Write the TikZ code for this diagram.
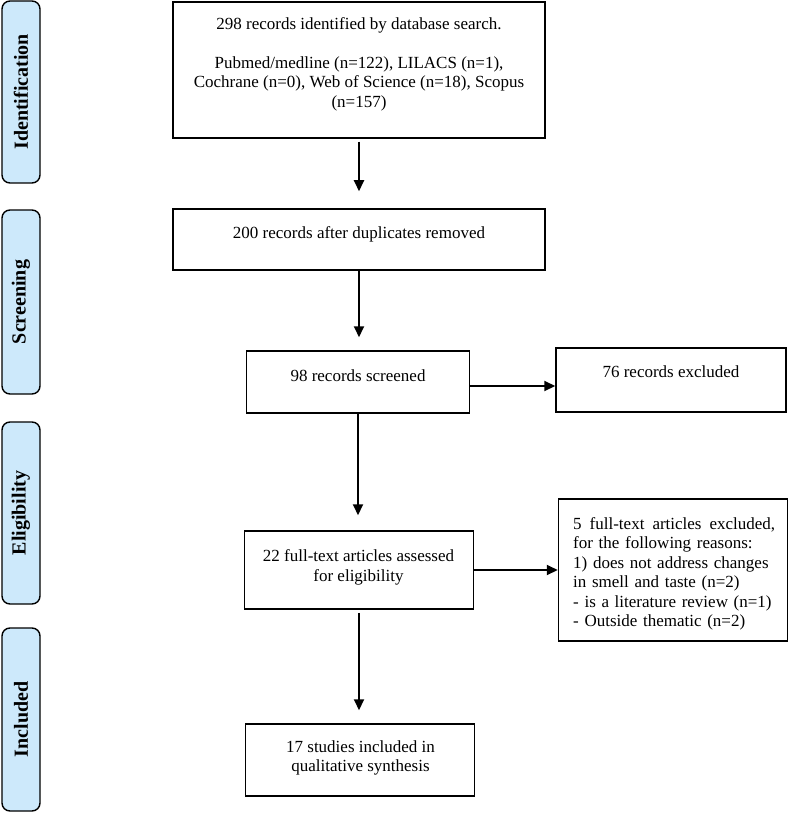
\documentclass[tikz,border=0pt]{standalone}
\usepackage{fontspec}
\setmainfont{Liberation Serif}
\usepackage{xcolor}
\usetikzlibrary{arrows.meta}
\definecolor{stageblue}{RGB}{205,233,251}
\tikzset{%
  tipF/.tip={Triangle[width=10pt,length=11pt]},
  box/.style={draw, line width=1.5pt, inner sep=0pt},
  stage/.style={draw, line width=1.4pt, fill=stageblue, rounded corners=8pt, minimum height=38pt, inner sep=0pt, rotate=90, font=\fontsize{20}{24}\selectfont\bfseries},
  txt/.style={font=\fontsize{17}{19.5}\selectfont, align=center, inner sep=0pt},
  flow/.style={line width=2pt, -tipF}
}

\begin{document}
\begin{tikzpicture}[x=1pt,y=-1pt]
\useasboundingbox (0,0) rectangle (789,813);
% stages on the left
\node[stage, minimum width=182pt] (sIdent) at (21,92) {Identification};
\node[stage, minimum width=184pt] (sScreen) at (21,302) {Screening};
\node[stage, minimum width=182pt] (sElig) at (21,513) {Eligibility};
\node[stage, minimum width=183pt] (sIncl) at (21,719.5) {Included};
% boxes
\node[box, minimum width=372pt, minimum height=136pt] (ident) at (359,70) {};
\node[txt, anchor=north] (identTxt) at (359,17) {298 records identified by database search.\\[19.5pt]Pubmed/medline (n=122), LILACS (n=1),\\Cochrane (n=0), Web of Science (n=18), Scopus\\(n=157)};
\node[box, minimum width=372pt, minimum height=61pt] (dedup) at (359,239.5) {};
\node[txt, anchor=north] (dedupTxt) at (359,226) {200 records after duplicates removed};
\node[box, minimum width=223pt, minimum height=62pt] (screen) at (358,382) {};
\node[txt, anchor=north] (screenTxt) at (358,369.5) {98 records screened};
\node[box, minimum width=230pt, minimum height=64pt] (excl) at (671,380) {};
\node[txt, anchor=north] (exclTxt) at (671,366) {76 records excluded};
\node[box, minimum width=229pt, minimum height=78pt] (full) at (359,570) {};
\node[txt, anchor=north] (fullTxt) at (358.5,549.5) {22 full-text articles assessed\\for eligibility};
\node[box, minimum width=229pt, minimum height=142pt] (fullExcl) at (673,570) {};
\node[txt, anchor=north west, text width=204pt, align=left] (fullExclTxt) at (573,517) {\makebox[202pt]{5\hfill full-text\hfill articles\hfill excluded,}\\for the following reasons:\\1) does not address changes\\in smell and taste (n=2)\\- is a literature review (n=1)\\- Outside thematic (n=2)};
\node[box, minimum width=229pt, minimum height=72pt] (incl) at (360,760) {};
\node[txt, anchor=north] (inclTxt) at (360.5,740) {17 studies included in\\qualitative synthesis};
% arrows
\draw[flow, shorten <=3pt, shorten >=17pt] (ident.south) -- (ident.south |- dedup.north);
\draw[flow, shorten >=13pt] (dedup.south) -- (dedup.south |- screen.north);
\draw[flow] ([yshift=-4pt]screen.east) -- ([yshift=-4pt]screen.east -| excl.west);
\draw[flow, shorten >=15pt] (screen.south) -- (screen.south |- full.north);
\draw[flow] (full.east) -- (full.east -| fullExcl.west);
\draw[flow, shorten <=3pt, shorten >=13pt] (full.south) -- (full.south |- incl.north);
\end{tikzpicture}
\end{document}
